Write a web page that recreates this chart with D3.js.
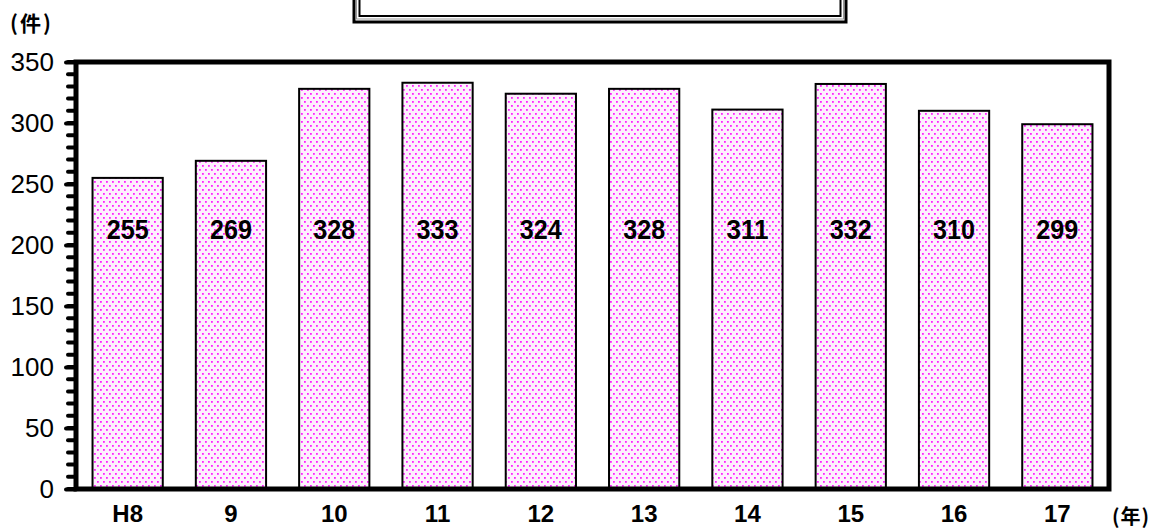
<!DOCTYPE html>
<html>
<head>
<meta charset="utf-8">
<script src="https://cdn.jsdelivr.net/npm/d3@7"></script>
<style>
  body { margin: 0; background: #fff; }
  svg { display: block; }
</style>
</head>
<body>
<div id="chart"></div>
<script>
const years = ["H8", "9", "10", "11", "12", "13", "14", "15", "16", "17"];
const counts = [255, 269, 328, 333, 324, 328, 311, 332, 310, 299];
const yTicks = [0, 50, 100, 150, 200, 250, 300, 350];

const W = 1162, H = 531;
const plot = { left: 76, right: 1109, top: 62, bottom: 489 };

const svg = d3.select("#chart").append("svg")
  .attr("width", W).attr("height", H);

// dotted pink fill
const defs = svg.append("defs");
const pat = defs.append("pattern")
  .attr("id", "dots")
  .attr("patternUnits", "userSpaceOnUse")
  .attr("width", 6).attr("height", 8);
pat.append("rect").attr("width", 6).attr("height", 8).attr("fill", "#fdf0fd");
pat.append("rect").attr("x", 1).attr("y", 1).attr("width", 1.8).attr("height", 1.8).attr("fill", "#ff22ff");
pat.append("rect").attr("x", 4).attr("y", 5).attr("width", 1.8).attr("height", 1.8).attr("fill", "#ff22ff");

const x = d3.scaleBand().domain(years)
  .range([plot.left, plot.right]).paddingInner(0.32).paddingOuter(0.16);
const y = d3.scaleLinear().domain([0, 350]).range([plot.bottom, plot.top]);

// title box (cut at top)
const tb = svg.append("g");
tb.append("rect").attr("x", 354).attr("y", -10).attr("width", 492).attr("height", 32)
  .attr("fill", "none").attr("stroke", "#000").attr("stroke-width", 3);
tb.append("rect").attr("x", 356.5).attr("y", -10).attr("width", 487).attr("height", 29)
  .attr("fill", "none").attr("stroke", "#999").attr("stroke-width", 1);
tb.append("rect").attr("x", 359.5).attr("y", -10).attr("width", 481).attr("height", 26)
  .attr("fill", "none").attr("stroke", "#000").attr("stroke-width", 2);

// bars
svg.append("g").selectAll("rect").data(counts).join("rect")
  .attr("x", (d, i) => x(years[i]))
  .attr("y", d => y(d))
  .attr("width", x.bandwidth())
  .attr("height", d => y(0) - y(d))
  .attr("fill", "url(#dots)")
  .attr("stroke", "#000").attr("stroke-width", 2);

// value labels
svg.append("g").selectAll("text").data(counts).join("text")
  .attr("x", (d, i) => x(years[i]) + x.bandwidth() / 2)
  .attr("y", y(205))
  .attr("text-anchor", "middle")
  .attr("font-family", "Liberation Sans, Arial, sans-serif")
  .attr("font-weight", "bold")
  .attr("font-size", 28)
  .attr("textLength", 42)
  .attr("lengthAdjust", "spacingAndGlyphs")
  .text(d => d);

// frame
svg.append("rect")
  .attr("x", plot.left).attr("y", plot.top)
  .attr("width", plot.right - plot.left).attr("height", plot.bottom - plot.top)
  .attr("fill", "none").attr("stroke", "#000").attr("stroke-width", 5);

// minor ticks
svg.append("g").selectAll("line").data(d3.range(0, 351, 10)).join("line")
  .attr("x1", plot.left - 8).attr("x2", plot.left)
  .attr("y1", d => y(d)).attr("y2", d => y(d))
  .attr("stroke", "#000").attr("stroke-width", 4).attr("stroke-linecap", "round");

// y axis
const yAxis = svg.append("g")
  .attr("transform", `translate(${plot.left},0)`)
  .call(d3.axisLeft(y).tickValues(yTicks).tickSize(10).tickPadding(12));
yAxis.select(".domain").remove();
yAxis.selectAll("line").attr("stroke-width", 4).attr("stroke-linecap", "round");
yAxis.selectAll("text")
  .attr("font-family", "Liberation Sans, Arial, sans-serif")
  .attr("font-size", 26).attr("fill", "#000");

// x axis labels
const xAxis = svg.append("g")
  .attr("transform", `translate(0,${plot.bottom})`)
  .call(d3.axisBottom(x).tickSize(0).tickPadding(16));
xAxis.select(".domain").remove();
xAxis.selectAll("text")
  .attr("font-family", "Liberation Sans, Arial, sans-serif")
  .attr("font-weight", "bold")
  .attr("font-size", 24).attr("fill", "#000");

// unit labels
svg.append("text").attr("x", 10).attr("y", 31)
  .attr("font-family", "Noto Sans CJK JP, sans-serif").attr("font-weight", "bold")
  .attr("font-size", 21).attr("letter-spacing", 2).text("(件)");
svg.append("text").attr("x", 1112).attr("y", 524)
  .attr("font-family", "Noto Sans CJK JP, sans-serif").attr("font-weight", "bold")
  .attr("font-size", 20).attr("letter-spacing", 1).text("(年)");
</script>
</body>
</html>
